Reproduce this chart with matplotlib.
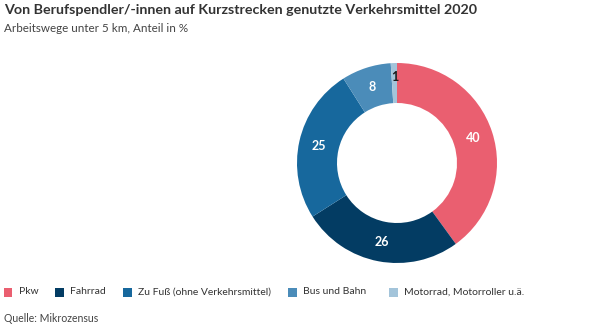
import matplotlib.pyplot as plt
from matplotlib.patches import Rectangle
import numpy as np

categories = ["Pkw", "Fahrrad", "Zu Fuß (ohne Verkehrsmittel)", "Bus und Bahn",
              "Motorrad, Motorroller u.ä."]
values = [40, 26, 25, 8, 1]
colors = ["#ea5f70", "#033c63", "#17689d", "#4b8cb9", "#a3c4da"]
label_colors = ["white", "white", "white", "white", "#1a1a1a"]

plt.rcParams['font.family'] = ['Lato', 'DejaVu Sans']

W, H = 590, 330
fig = plt.figure(figsize=(W / 100, H / 100), dpi=100)
fig.patch.set_facecolor("white")

# donut
ax = fig.add_axes([(397 - 100) / W, 1 - (163 + 100) / H, 200 / W, 200 / H])
wedges, _ = ax.pie(values, colors=colors, startangle=90, counterclock=False,
                   radius=1.0, wedgeprops=dict(width=0.4, edgecolor="none"))
ang = 90.0
for v, lc in zip(values, label_colors):
    mid = ang - v / 100 * 360 / 2
    r = 0.8 if v > 2 else 0.86
    ax.text(r * np.cos(np.radians(mid)), r * np.sin(np.radians(mid)), str(v),
            ha="center", va="center", color=lc, fontsize=9, fontweight="bold")
    ang -= v / 100 * 360
ax.set_aspect("equal")
ax.set_xlim(-1, 1)
ax.set_ylim(-1, 1)

fig.text(4 / W, 1 - 10 / H, "Von Berufspendler/-innen auf Kurzstrecken genutzte Verkehrsmittel 2020",
         fontsize=10.3, fontweight="bold", color="#333333", va="center", ha="left")
fig.text(4 / W, 1 - 28 / H, "Arbeitswege unter 5 km, Anteil in %",
         fontsize=8.4, color="#444444", va="center", ha="left")

# legend, one entry per category
sq_x = [4, 55, 123, 288, 389]
ly = 292
for x, c, lab in zip(sq_x, colors, categories):
    fig.patches.append(Rectangle((x / W, 1 - (ly + 4.5) / H), 8.5 / W, 9 / H,
                                 transform=fig.transFigure, facecolor=c,
                                 edgecolor="none"))
    fig.text((x + 15) / W, 1 - ly / H, lab, fontsize=7.5, color="#333333",
             va="center", ha="left")

fig.text(4 / W, 1 - 318 / H, "Quelle: Mikrozensus", fontsize=7.6, color="#444444",
         va="center", ha="left")

fig.savefig("out.png", dpi=100)
